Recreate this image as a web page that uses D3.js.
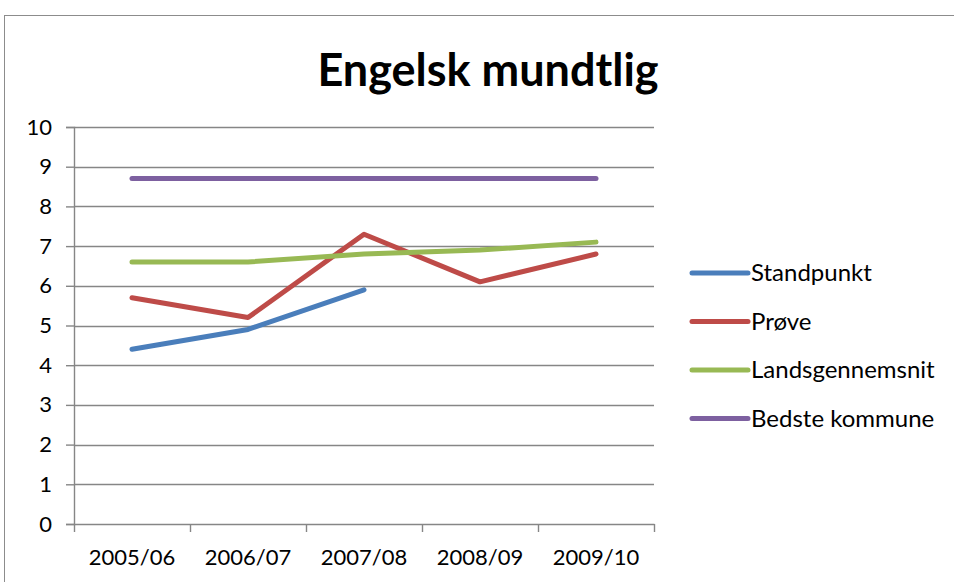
<!DOCTYPE html>
<html>
<head>
<meta charset="utf-8">
<script src="https://cdn.jsdelivr.net/npm/d3@7"></script>
<style>
  body { margin: 0; background: #fff; }
  svg { display: block; font-family: Lato, "Open Sans", sans-serif; }
</style>
</head>
<body>
<div id="chart"></div>
<script>
var years = ["2005/06", "2006/07", "2007/08", "2008/09", "2009/10"];
var standpunkt = [4.4, 4.9, 5.9, null, null];
var proeve = [5.7, 5.2, 7.3, 6.1, 6.8];
var landsgennemsnit = [6.6, 6.6, 6.8, 6.9, 7.1];
var bedsteKommune = [8.7, 8.7, 8.7, 8.7, 8.7];
var seriesNames = ["Standpunkt", "Prøve", "Landsgennemsnit", "Bedste kommune"];
var seriesColors = ["#4a7ebb", "#be4b48", "#98b954", "#7d60a0"];
var yTicks = [0, 1, 2, 3, 4, 5, 6, 7, 8, 9, 10];

var allSeries = [standpunkt, proeve, landsgennemsnit, bedsteKommune];

var W = 954, H = 582;
var margin = { top: 127, left: 74, right: 300, bottom: 58 };
var plotW = 654 - margin.left, plotH = 524 - margin.top;

var svg = d3.select("#chart").append("svg")
  .attr("width", W).attr("height", H);

// outer chart frame
svg.append("rect")
  .attr("x", 4.5).attr("y", 15.5)
  .attr("width", 1000).attr("height", 1000)
  .attr("fill", "#fff").attr("stroke", "#8c8c8c").attr("stroke-width", 1);

svg.append("text")
  .attr("x", 488).attr("y", 86)
  .attr("text-anchor", "middle")
  .style("font-size", "45px").style("font-weight", "bold")
  .text("Engelsk mundtlig");

var x = d3.scaleBand().domain(years).range([0, plotW]);
var y = d3.scaleLinear().domain([0, 10]).range([plotH, 0]);

var g = svg.append("g").attr("transform", "translate(" + margin.left + "," + margin.top + ")");

// gridlines
g.append("g").selectAll("line").data(yTicks.filter(function (d) { return d > 0; }))
  .enter().append("line")
  .attr("x1", 0).attr("x2", plotW)
  .attr("y1", function (d) { return Math.round(y(d)) + 0.5; })
  .attr("y2", function (d) { return Math.round(y(d)) + 0.5; })
  .attr("stroke", "#868686").attr("stroke-width", 1.4);

var yAxis = d3.axisLeft(y).tickValues(yTicks).tickSize(8).tickPadding(14);
g.append("g").attr("class", "axis").call(yAxis);

var xAxis = d3.axisBottom(x).tickSize(0).tickPadding(25);
var xg = g.append("g").attr("class", "axis").attr("transform", "translate(0," + plotH + ")").call(xAxis);
// category boundary ticks
xg.selectAll("line.bound").data(d3.range(years.length + 1))
  .enter().append("line").attr("class", "bound")
  .attr("x1", function (i) { return Math.round(i * x.step()) + 0.5; })
  .attr("x2", function (i) { return Math.round(i * x.step()) + 0.5; })
  .attr("y1", 0).attr("y2", 8)
  .attr("stroke", "#868686").attr("stroke-width", 1.4);

svg.selectAll(".axis path.domain").attr("stroke", "#868686").attr("stroke-width", 1.4);
svg.selectAll(".axis .tick line").attr("stroke", "#868686").attr("stroke-width", 1.4);
svg.selectAll(".axis text").style("font-size", "22px").attr("fill", "#000")
  .style("font-family", "Lato, sans-serif");

var line = d3.line()
  .defined(function (d) { return d != null; })
  .x(function (d, i) { return x(years[i]) + x.bandwidth() / 2; })
  .y(function (d) { return y(d); });

allSeries.forEach(function (s, i) {
  g.append("path")
    .datum(s)
    .attr("d", line)
    .attr("fill", "none")
    .attr("stroke", seriesColors[i])
    .attr("stroke-width", 5)
    .attr("stroke-linecap", "round")
    .attr("stroke-linejoin", "round");
});

// legend
var legend = svg.append("g").attr("transform", "translate(692,273)");
seriesNames.forEach(function (name, i) {
  var row = legend.append("g").attr("transform", "translate(0," + (i * 48.5) + ")");
  row.append("line")
    .attr("x1", 0).attr("x2", 56).attr("y1", 0).attr("y2", 0)
    .attr("stroke", seriesColors[i]).attr("stroke-width", 5)
    .attr("stroke-linecap", "round");
  row.append("text")
    .attr("x", 59).attr("y", 8)
    .style("font-size", "24px")
    .text(name);
});
</script>
</body>
</html>
